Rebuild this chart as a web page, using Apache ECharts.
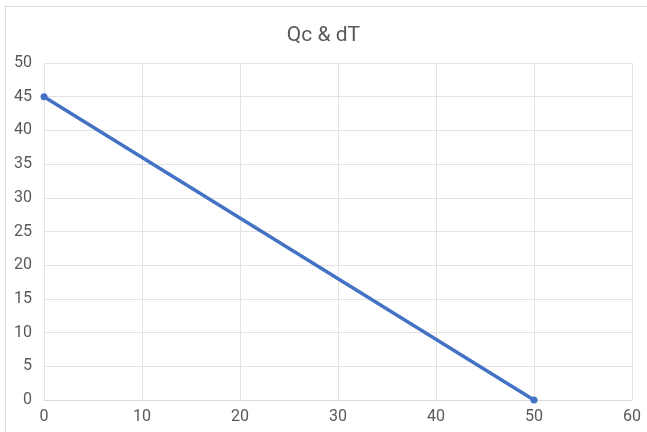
<!DOCTYPE html>
<html>
<head>
<meta charset="utf-8">
<script src="https://cdn.jsdelivr.net/npm/echarts@6/dist/echarts.min.js"></script>
<style>
html,body{margin:0;padding:0;background:#fff;overflow:hidden;}
#frame{position:absolute;left:5px;top:6px;width:700px;height:500px;border:1px solid #d9d9d9;box-sizing:border-box;}
#chart{position:absolute;left:0;top:0;width:647px;height:432px;}
</style>
</head>
<body>
<div id="frame"></div>
<div id="chart"></div>
<script>
var titleText = "Qc & dT";
var xValues = [0, 50];
var yValues = [45, 0];

var chart = echarts.init(document.getElementById('chart'));
var lineData = xValues.map(function (x, i) { return [x, yValues[i]]; });
chart.setOption({
  backgroundColor: 'transparent',
  title: {
    text: titleText,
    left: 'center',
    top: 20,
    textStyle: { color: '#595959', fontSize: 21, fontWeight: 'normal', fontFamily: 'Roboto, Liberation Sans, sans-serif' }
  },
  grid: { left: 44, right: 15, top: 63, bottom: 32, containLabel: false },
  xAxis: {
    type: 'value', min: 0, max: 60, interval: 10,
    axisLine: { show: true, lineStyle: { color: '#d9d9d9' } },
    axisTick: { show: false },
    axisLabel: { color: '#595959', fontSize: 16, margin: 9, fontFamily: 'Roboto, Liberation Sans, sans-serif' },
    splitLine: { show: true, lineStyle: { color: '#e3e3e3', width: 1 } }
  },
  yAxis: {
    type: 'value', min: 0, max: 50, interval: 5,
    axisLine: { show: false },
    axisTick: { show: false },
    axisLabel: { color: '#595959', fontSize: 16, margin: 12, fontFamily: 'Roboto, Liberation Sans, sans-serif' },
    splitLine: { show: true, lineStyle: { color: '#e3e3e3', width: 1 } }
  },
  series: [{
    type: 'line',
    data: lineData,
    symbol: 'circle',
    symbolSize: 7,
    lineStyle: { color: '#4472C4', width: 3.5 },
    itemStyle: { color: '#4472C4' },
    animation: false
  }]
});
</script>
</body>
</html>
